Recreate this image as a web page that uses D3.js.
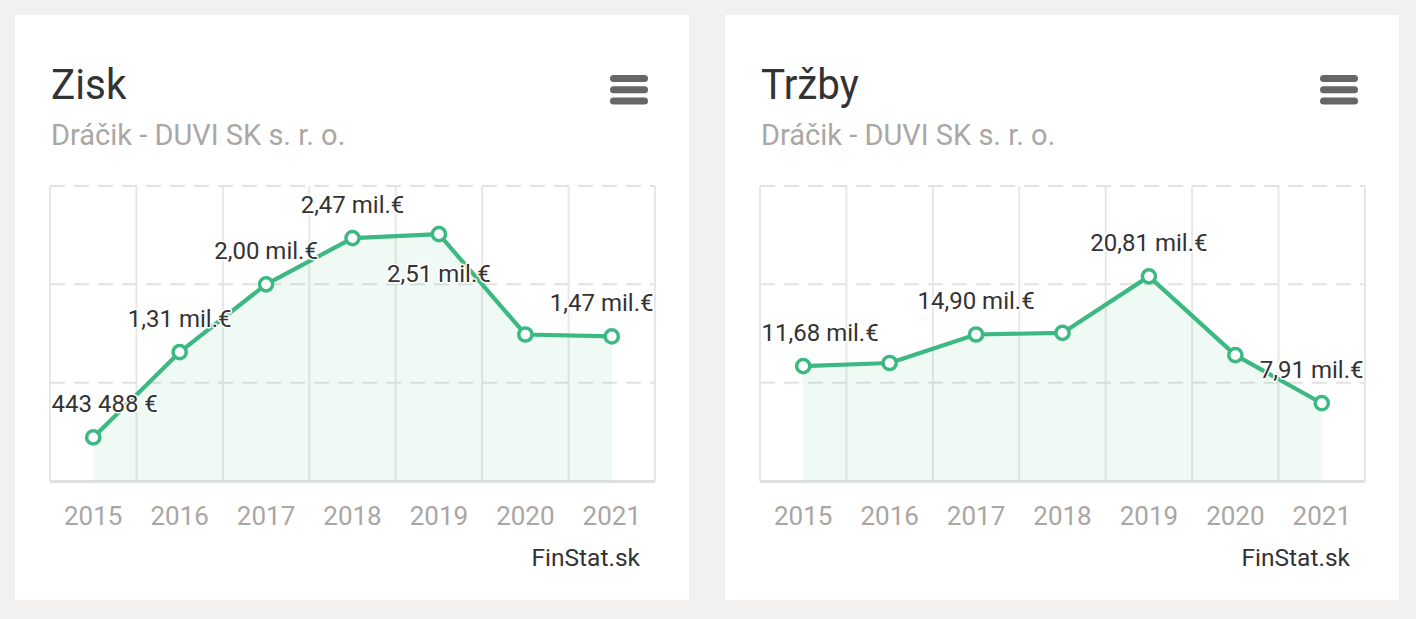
<!DOCTYPE html>
<html>
<head>
<meta charset="utf-8">
<script src="https://cdn.jsdelivr.net/npm/d3@7"></script>
<style>
  body { margin: 0; background: #f2f1ef; }
  svg { display: block; font-family: Roboto, 'Noto Sans', sans-serif; }
</style>
</head>
<body>
<svg id="chart" width="1416" height="619"></svg>
<script>
const years = ['2015', '2016', '2017', '2018', '2019', '2020', '2021'];

// Zisk (profit), EUR
const zisk = [443488, 1310000, 2000000, 2470000, 2510000, 1490000, 1470000];
const ziskLabelShown = [true, true, true, true, true, false, true];
const ziskTicks = [0, 1000000, 2000000, 3000000];

// Tržby (revenue), EUR
const trzby = [11680000, 12000000, 14900000, 15060000, 20810000, 12800000, 7910000];
const trzbyLabelShown = [true, false, true, false, true, false, true];
const trzbyTicks = [0, 10000000, 20000000, 30000000];

const companyName = 'Dráčik - DUVI SK s. r. o.';
const source = 'FinStat.sk';

const green = '#3cb983';

function fmt(v) {
  if (v >= 1e6) return d3.format('.2f')(v / 1e6).replace('.', ',') + ' mil.€';
  return d3.format(',')(v).replace(/,/g, ' ') + ' €';
}

const svg = d3.select('#chart');

function drawCard(ox, title, values, shown, ticks) {
  const g = svg.append('g').attr('transform', `translate(${ox},0)`);

  g.append('rect')
    .attr('x', 15).attr('y', 15)
    .attr('width', 674).attr('height', 585)
    .attr('fill', '#fff');

  // title, slightly narrowed like the original font
  g.append('text')
    .attr('transform', 'translate(51,99) scale(0.94,1)')
    .attr('font-size', 43)
    .attr('fill', '#333')
    .text(title);

  g.append('text')
    .attr('x', 51).attr('y', 145)
    .attr('font-size', 29)
    .attr('fill', '#aba7a5')
    .text(companyName);

  // menu icon
  g.selectAll('rect.menu')
    .data([0, 1, 2])
    .enter()
    .append('rect')
    .attr('class', 'menu')
    .attr('x', 610).attr('y', d => 75 + d * 11.3)
    .attr('width', 38).attr('height', 7)
    .attr('rx', 3.5)
    .attr('fill', '#666');

  const left = 50, right = 655, top = 186, bottom = 481;

  const x = d3.scaleBand().domain(years).range([left, right]).padding(0);
  const y = d3.scaleLinear().domain([0, ticks[ticks.length - 1]]).range([bottom, top]);
  const cx = d => x(d) + x.bandwidth() / 2;

  // vertical grid (band edges)
  const edges = years.map(d => x(d)).concat([right]);
  g.selectAll('line.vgrid')
    .data(edges)
    .enter()
    .append('line')
    .attr('x1', d => d).attr('x2', d => d)
    .attr('y1', top).attr('y2', bottom)
    .attr('stroke', '#e6e8e8')
    .attr('stroke-width', 2);

  // horizontal dashed grid
  g.selectAll('line.hgrid')
    .data(ticks.slice(1))
    .enter()
    .append('line')
    .attr('x1', left).attr('x2', right)
    .attr('y1', d => y(d)).attr('y2', d => y(d))
    .attr('stroke', '#e2e2e2')
    .attr('stroke-width', 2)
    .attr('stroke-dasharray', '15,9');

  // axis line
  g.append('line')
    .attr('x1', left).attr('x2', right)
    .attr('y1', y(0) + 0.5).attr('y2', y(0) + 0.5)
    .attr('stroke', '#e0e0e0')
    .attr('stroke-width', 3);

  const data = years.map((yr, i) => ({ yr, v: values[i], show: shown[i] }));

  const area = d3.area().x(d => cx(d.yr)).y0(y(0)).y1(d => y(d.v));
  g.append('path')
    .datum(data)
    .attr('d', area)
    .attr('fill', green)
    .attr('fill-opacity', 0.08);

  const line = d3.line().x(d => cx(d.yr)).y(d => y(d.v));
  g.append('path')
    .datum(data)
    .attr('d', line)
    .attr('fill', 'none')
    .attr('stroke', green)
    .attr('stroke-width', 4.2)
    .attr('stroke-linejoin', 'round');

  g.selectAll('circle')
    .data(data)
    .enter()
    .append('circle')
    .attr('cx', d => cx(d.yr))
    .attr('cy', d => y(d.v))
    .attr('r', 6.6)
    .attr('fill', '#fff')
    .attr('stroke', green)
    .attr('stroke-width', 3.5);

  // data labels: above the point, flipped below if they collide
  const placed = [];
  data.filter(d => d.show).forEach(d => {
    const t = g.append('text')
      .attr('font-size', 24)
      .attr('fill', '#333')
      .attr('stroke', '#fff')
      .attr('stroke-width', 3)
      .attr('paint-order', 'stroke')
      .attr('stroke-linejoin', 'round')
      .text(fmt(d.v));
    const w = t.node().getComputedTextLength();
    let x0 = cx(d.yr) - w / 2;
    x0 = Math.max(left + 1.5, Math.min(right - 1.5 - w, x0));
    let yc = y(d.v) - 34;
    const hits = b => placed.some(p => b.x0 < p.x1 && b.x1 > p.x0 && b.y0 < p.y1 && b.y1 > p.y0);
    let box = { x0, x1: x0 + w, y0: yc - 12, y1: yc + 12 };
    if (hits(box)) {
      yc = y(d.v) + 39;
      box = { x0, x1: x0 + w, y0: yc - 12, y1: yc + 12 };
    }
    placed.push(box);
    t.attr('x', x0).attr('y', yc).attr('dy', '0.35em');
  });

  // year labels
  g.selectAll('text.year')
    .data(years)
    .enter()
    .append('text')
    .attr('class', 'year')
    .attr('x', d => cx(d))
    .attr('y', 525)
    .attr('text-anchor', 'middle')
    .attr('font-size', 26)
    .attr('fill', '#aaa6a3')
    .text(d => d);

  g.append('text')
    .attr('x', 640).attr('y', 566)
    .attr('text-anchor', 'end')
    .attr('font-size', 24.5)
    .attr('fill', '#333')
    .text(source);
}

drawCard(0, 'Zisk', zisk, ziskLabelShown, ziskTicks);
drawCard(710, 'Tržby', trzby, trzbyLabelShown, trzbyTicks);
</script>
</body>
</html>
